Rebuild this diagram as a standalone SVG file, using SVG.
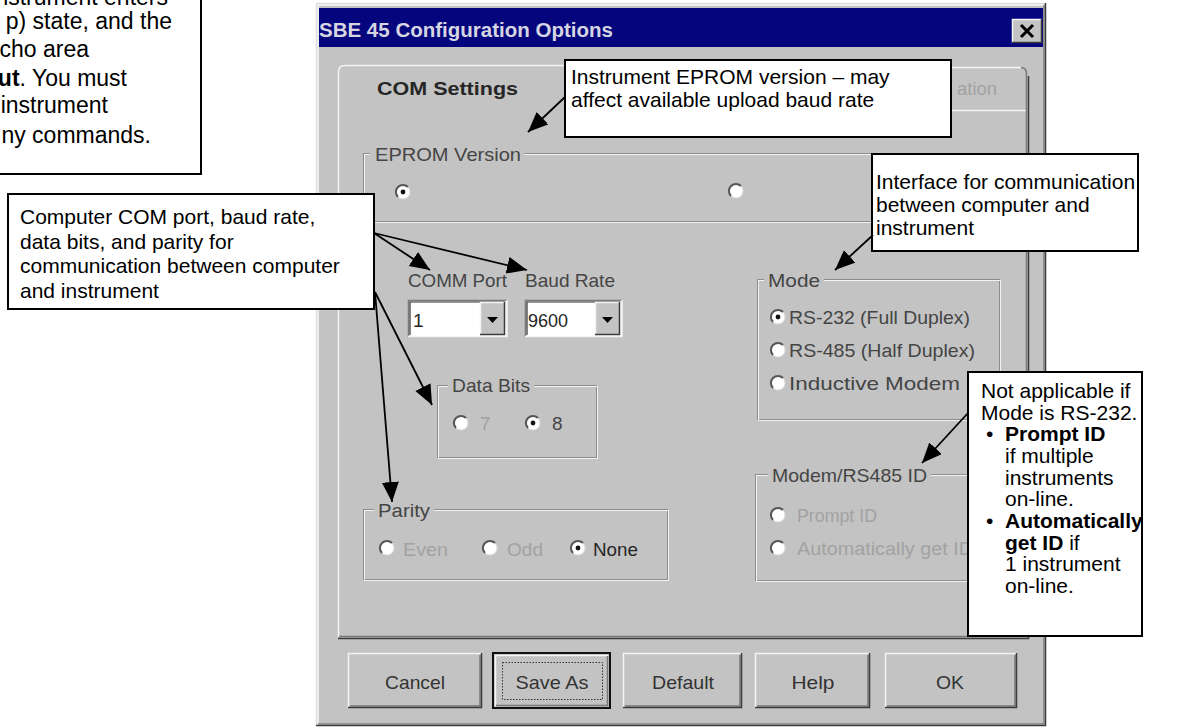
<svg xmlns="http://www.w3.org/2000/svg" xmlns:xlink="http://www.w3.org/1999/xlink" width="1181" height="728" viewBox="0 0 1181 728">
<style>
.co{fill:#fff;stroke:#000;stroke-width:2}
.ct{font-family:"Liberation Sans",Arial,sans-serif;font-size:21px;fill:#000}
.tl{font-family:"Liberation Sans",Arial,sans-serif;font-size:23px;fill:#000;text-anchor:end}
.b{font-weight:bold}
.dt{font-family:"Liberation Sans",Arial,sans-serif;font-size:19px;fill:#454545}
.dk{fill:#262626}
.dis{fill:#a2a2a2}
.bt{font-family:"Liberation Sans",Arial,sans-serif;font-size:19px;fill:#333;text-anchor:middle}
.gd{fill:none;stroke:#8c8c8c;stroke-width:1}
.gl{fill:none;stroke:#f2f2f2;stroke-width:1}
.lbg{fill:#c3c3c3}
.conn{fill:none;stroke:#000;stroke-width:1.8;marker-end:url(#ah)}
.hi{stroke:#f4f4f4;stroke-width:1.5;fill:none}
.sh{stroke:#7a7a7a;stroke-width:1.5;fill:none}
.dd{stroke:#3c3c3c;stroke-width:1.5;fill:none}
</style>
<defs>
<marker id="ah" markerUnits="userSpaceOnUse" markerWidth="22" markerHeight="18" refX="20" refY="8.5" orient="auto">
<path d="M0,0 L20,8.5 L0,17 z" fill="#000"/>
</marker>
<g id="rb">
<circle r="7" fill="#fff"/>
<path d="M5,-5 A7,7 0 0 0 -5,5" stroke="#555" stroke-width="2" fill="none"/>
<path d="M5,-5 A7,7 0 0 1 -5,5" stroke="#dcdcdc" stroke-width="1" fill="none"/>
</g>
<g id="rbs">
<use xlink:href="#rb"/>
<circle r="2.4" fill="#111"/>
</g>
</defs>

<rect x="0" y="0" width="1181" height="728" fill="#fff"/>

<!-- Dialog window -->
<g id="dialog">
<rect x="316" y="3" width="730" height="723" fill="#c3c3c3"/>
<path d="M316.5,726 V3.5 H1046" stroke="#dedede" stroke-width="1.5" fill="none"/>
<path d="M318,725 V5 H1044" stroke="#fafafa" stroke-width="1.5" fill="none"/>
<path d="M316,725.5 H1045.5 V3" stroke="#3a3a3a" stroke-width="1.5" fill="none"/>
<path d="M318,724 H1044 V5" stroke="#808080" stroke-width="1.5" fill="none"/>
<g id="titlebar">
<rect x="319" y="8" width="724" height="39" fill="#05057e"/>
<text x="319" y="37" font-family="'Liberation Sans',Arial,sans-serif" font-size="20" font-weight="bold" fill="#d6d6e2" textLength="294" lengthAdjust="spacingAndGlyphs">SBE 45 Configuration Options</text>
</g>
<g id="close-button">
<rect x="1012" y="19" width="30" height="24" fill="#c3c3c3"/>
<path class="hi" d="M1012.5,43 V19.5 H1042"/>
<path class="dd" d="M1012,42.5 H1041.5 V19"/>
<path d="M1021,25 L1033,37 M1033,25 L1021,37" stroke="#000" stroke-width="3"/>
</g>
</g>

<g id="tab-panel">
<path class="hi" d="M338.5,637 V72 Q338.5,65.5 345,65.5 H600"/>
<path class="hi" d="M930,67.5 H1021"/>
<path class="hi" d="M930,110.5 H1027"/>
<path class="sh" d="M1021,67.5 Q1026.5,67.5 1026.5,74 V636.5 H339"/>
<path class="dd" d="M1028.5,76 V638.5 H338"/>
<text class="dt dk b" x="377" y="95" textLength="141" lengthAdjust="spacingAndGlyphs">COM Settings</text>
<text class="dt dis" x="957" y="95" textLength="40" lengthAdjust="spacingAndGlyphs">ation</text>
</g>

<g id="group-eprom">
<rect class="gd" x="363.5" y="153.5" width="651" height="68"/>
<rect class="gl" x="364.5" y="154.5" width="651" height="68"/>
<rect class="lbg" x="370" y="144" width="154" height="20"/>
<text class="dt" x="375" y="161" textLength="146" lengthAdjust="spacingAndGlyphs">EPROM Version</text>
<use xlink:href="#rbs" x="403" y="192"/>
<use xlink:href="#rb" x="736" y="191"/>
</g>

<g id="comm-port">
<text class="dt" x="408" y="287" textLength="99" lengthAdjust="spacingAndGlyphs">COMM Port</text>
<rect x="408" y="300" width="99" height="37" fill="#fff"/>
<path d="M408.5,337 V300.5 H507" stroke="#7a7a7a" stroke-width="1.5" fill="none"/>
<path d="M410,335 V302 H505" stroke="#333" stroke-width="1.2" fill="none"/>
<path class="hi" d="M408,336.5 H507 V300"/>
<rect x="480" y="302" width="25" height="33" fill="#c3c3c3"/>
<path class="hi" d="M480.5,335 V302.5 H505"/>
<path class="dd" d="M480,334.5 H504.5 V302"/>
<path d="M487,317 H498 L492.5,323 z" fill="#000"/>
<text class="dt dk" x="413" y="327">1</text>
</g>

<g id="baud-rate">
<text class="dt" x="525" y="287" textLength="90" lengthAdjust="spacingAndGlyphs">Baud Rate</text>
<rect x="525" y="300" width="97" height="37" fill="#fff"/>
<path d="M525.5,337 V300.5 H622" stroke="#7a7a7a" stroke-width="1.5" fill="none"/>
<path d="M527,335 V302 H620" stroke="#333" stroke-width="1.2" fill="none"/>
<path class="hi" d="M525,336.5 H622 V300"/>
<rect x="595" y="302" width="25" height="33" fill="#c3c3c3"/>
<path class="hi" d="M595.5,335 V302.5 H620"/>
<path class="dd" d="M595,334.5 H619.5 V302"/>
<path d="M602,317 H613 L607.5,323 z" fill="#000"/>
<text class="dt dk" x="528" y="327" textLength="40" lengthAdjust="spacingAndGlyphs">9600</text>
</g>

<g id="group-databits">
<rect class="gd" x="437.5" y="385.5" width="159" height="72"/>
<rect class="gl" x="438.5" y="386.5" width="159" height="72"/>
<rect class="lbg" x="448" y="374" width="86" height="22"/>
<text class="dt" x="452" y="392" textLength="78" lengthAdjust="spacingAndGlyphs">Data Bits</text>
<use xlink:href="#rb" x="461" y="423"/>
<text class="dt dis" x="480" y="430">7</text>
<use xlink:href="#rbs" x="533" y="423"/>
<text class="dt" x="552" y="430">8</text>
</g>

<g id="group-parity">
<rect class="gd" x="363.5" y="509.5" width="304" height="70"/>
<rect class="gl" x="364.5" y="510.5" width="304" height="70"/>
<rect class="lbg" x="374" y="498" width="60" height="24"/>
<text class="dt" x="378" y="517" textLength="52" lengthAdjust="spacingAndGlyphs">Parity</text>
<use xlink:href="#rb" x="387" y="548"/>
<text class="dt dis" x="403" y="556" textLength="45" lengthAdjust="spacingAndGlyphs">Even</text>
<use xlink:href="#rb" x="490" y="548"/>
<text class="dt dis" x="507" y="556" textLength="36" lengthAdjust="spacingAndGlyphs">Odd</text>
<use xlink:href="#rbs" x="578" y="548"/>
<text class="dt dk" x="593" y="556" textLength="45" lengthAdjust="spacingAndGlyphs">None</text>
</g>

<g id="group-mode">
<rect class="gd" x="757.5" y="279.5" width="242" height="140"/>
<rect class="gl" x="758.5" y="280.5" width="242" height="140"/>
<rect class="lbg" x="764" y="270" width="60" height="20"/>
<text class="dt" x="768" y="287" textLength="52" lengthAdjust="spacingAndGlyphs">Mode</text>
<use xlink:href="#rbs" x="778" y="317"/>
<text class="dt" x="789" y="324" textLength="181" lengthAdjust="spacingAndGlyphs">RS-232 (Full Duplex)</text>
<use xlink:href="#rb" x="778" y="350"/>
<text class="dt" x="789" y="357" textLength="186" lengthAdjust="spacingAndGlyphs">RS-485 (Half Duplex)</text>
<use xlink:href="#rb" x="778" y="383"/>
<text class="dt" x="789" y="390" textLength="171" lengthAdjust="spacingAndGlyphs">Inductive Modem</text>
</g>

<g id="group-modemid">
<rect class="gd" x="755.5" y="474.5" width="250" height="106"/>
<rect class="gl" x="756.5" y="475.5" width="250" height="106"/>
<rect class="lbg" x="768" y="464" width="163" height="22"/>
<text class="dt" x="772" y="482" textLength="155" lengthAdjust="spacingAndGlyphs">Modem/RS485 ID</text>
<use xlink:href="#rb" x="778" y="515"/>
<text class="dt dis" x="797" y="522" textLength="80" lengthAdjust="spacingAndGlyphs">Prompt ID</text>
<use xlink:href="#rb" x="778" y="548"/>
<text class="dt dis" x="797" y="555" textLength="176" lengthAdjust="spacingAndGlyphs">Automatically get ID</text>
</g>

<g id="btn-cancel">
<rect x="348" y="653" width="134" height="55" fill="#c3c3c3"/>
<path class="hi" d="M348.5,708 V653.5 H482"/>
<path class="sh" d="M350,706 H480 V655"/>
<path class="dd" d="M348,707.5 H481.5 V653"/>
<text class="bt" x="415" y="689" textLength="60" lengthAdjust="spacingAndGlyphs">Cancel</text>
</g>
<g id="btn-saveas">
<rect x="493" y="653" width="117" height="55" fill="#c3c3c3" stroke="#111" stroke-width="2"/>
<path class="hi" d="M495.5,706 V655.5 H608"/>
<path class="sh" d="M496,705.5 H607.5 V656"/>
<rect x="502.5" y="662.5" width="100" height="37" fill="none" stroke="#333" stroke-width="1" stroke-dasharray="1.5,1.5"/>
<text class="bt" x="552" y="689" textLength="73" lengthAdjust="spacingAndGlyphs">Save As</text>
</g>
<g id="btn-default">
<rect x="623" y="653" width="119" height="55" fill="#c3c3c3"/>
<path class="hi" d="M623.5,708 V653.5 H742"/>
<path class="sh" d="M625,706 H740 V655"/>
<path class="dd" d="M623,707.5 H741.5 V653"/>
<text class="bt" x="683" y="689" textLength="62" lengthAdjust="spacingAndGlyphs">Default</text>
</g>
<g id="btn-help">
<rect x="755" y="653" width="115" height="55" fill="#c3c3c3"/>
<path class="hi" d="M755.5,708 V653.5 H870"/>
<path class="sh" d="M757,706 H868 V655"/>
<path class="dd" d="M755,707.5 H869.5 V653"/>
<text class="bt" x="813" y="689" textLength="43" lengthAdjust="spacingAndGlyphs">Help</text>
</g>
<g id="btn-ok">
<rect x="885" y="653" width="132" height="55" fill="#c3c3c3"/>
<path class="hi" d="M885.5,708 V653.5 H1017"/>
<path class="sh" d="M887,706 H1015 V655"/>
<path class="dd" d="M885,707.5 H1016.5 V653"/>
<text class="bt" x="950" y="689" textLength="28" lengthAdjust="spacingAndGlyphs">OK</text>
</g>

<!-- Callouts -->
<g id="note-timeout">
<rect class="co" x="-10" y="-10" width="211" height="184"/>
<text class="tl" x="168" y="5">nstrument enters</text>
<text class="tl" x="172" y="29">p) state, and the</text>
<text class="tl" x="89" y="57">cho area</text>
<text class="tl" x="127" y="86"><tspan class="b">ut</tspan>. You must</text>
<text class="tl" x="108" y="113">instrument</text>
<text class="tl" x="151" y="143">ny commands.</text>
</g>

<g id="callout-eprom">
<rect class="co" x="565" y="60" width="386" height="77"/>
<text class="ct" x="571" y="84">Instrument EPROM version – may</text>
<text class="ct" x="571" y="107">affect available upload baud rate</text>
</g>

<g id="callout-com">
<rect class="co" x="8" y="194" width="366" height="115"/>
<text class="ct" x="20" y="224">Computer COM port, baud rate,</text>
<text class="ct" x="20" y="249">data bits, and parity for</text>
<text class="ct" x="20" y="273">communication between computer</text>
<text class="ct" x="20" y="298">and instrument</text>
</g>

<g id="callout-interface">
<rect class="co" x="872" y="154" width="266" height="97"/>
<text class="ct" x="876" y="189">Interface for communication</text>
<text class="ct" x="876" y="212">between computer and</text>
<text class="ct" x="876" y="235">instrument</text>
</g>

<g id="callout-modemid">
<rect class="co" x="968" y="372" width="174" height="264"/>
<text class="ct" x="981" y="398">Not applicable if</text>
<text class="ct" x="981" y="419.5">Mode is RS-232.</text>
<text class="ct" x="986" y="441">•</text>
<text class="ct b" x="1005" y="441">Prompt ID</text>
<text class="ct" x="1005" y="463">if multiple</text>
<text class="ct" x="1005" y="485">instruments</text>
<text class="ct" x="1005" y="506">on-line.</text>
<text class="ct" x="986" y="528">•</text>
<text class="ct b" x="1005" y="528" font-size="20.5">Automatically</text>
<text class="ct" x="1005" y="550"><tspan class="b">get ID</tspan> if</text>
<text class="ct" x="1005" y="571">1 instrument</text>
<text class="ct" x="1005" y="593">on-line.</text>
</g>

<!-- Connectors -->
<g id="connectors">
<path class="conn" d="M565,97 L528,132"/>
<path class="conn" d="M374,233 L430,270"/>
<path class="conn" d="M374,233 L527,270"/>
<path class="conn" d="M375,292 L432,405"/>
<path class="conn" d="M375,292 L392,502"/>
<path class="conn" d="M873,235 L835,270"/>
<path class="conn" d="M968,413 L922,463"/>
</g>
</svg>
